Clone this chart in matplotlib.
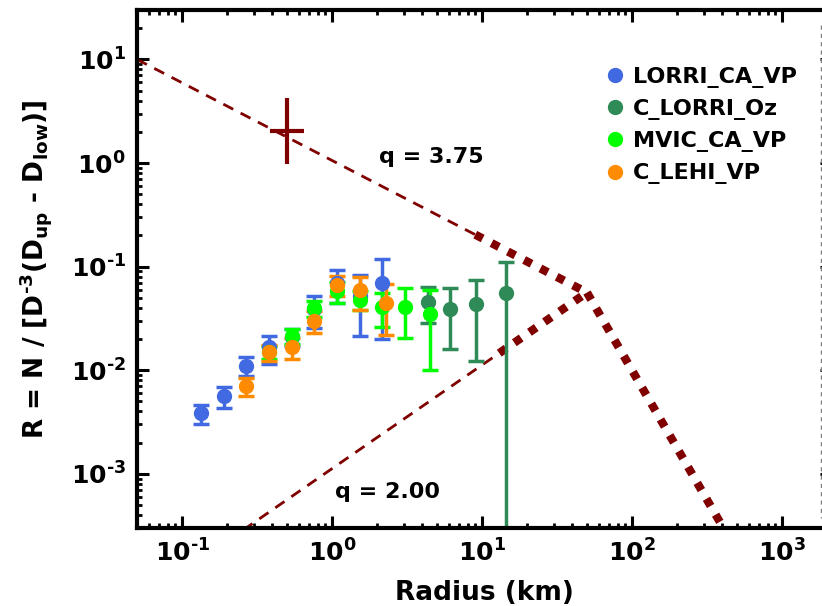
import matplotlib
matplotlib.use("Agg")
import matplotlib.pyplot as plt
import numpy as np
from matplotlib.lines import Line2D
from matplotlib.ticker import FuncFormatter, LogLocator

plt.rcParams['font.family'] = ['DejaVu Sans']
plt.rcParams['font.weight'] = 'bold'
plt.rcParams['mathtext.fontset'] = 'dejavusans'

# binned size-frequency points (radius in km, R value, 1-sigma error)
lorri_ca_x = [0.133, 0.191, 0.267, 0.378, 0.541, 0.762, 1.07, 1.53, 2.15]
lorri_ca_y = [0.00385, 0.0056, 0.0111, 0.0166, 0.021, 0.0386, 0.069, 0.052, 0.069]
lorri_ca_e = [0.00079, 0.0013, 0.0024, 0.005, 0.004, 0.0133, 0.0246, 0.0307, 0.049]

c_lorri_x = [4.34, 6.12, 9.16, 14.5]
c_lorri_y = [0.0457, 0.0389, 0.0434, 0.0552]
c_lorri_e = [0.0174, 0.0227, 0.031, 0.0549]

mvic_x = [0.378, 0.541, 0.762, 1.07, 1.53, 2.15, 3.07, 4.52]
mvic_y = [0.0150, 0.0215, 0.040, 0.058, 0.048, 0.0411, 0.0411, 0.0347]
mvic_e = [0.0022, 0.0035, 0.007, 0.013, 0.010, 0.0149, 0.0206, 0.0246]

lehi_x = [0.267, 0.378, 0.541, 0.762, 1.07, 1.53, 2.29]
lehi_y = [0.00703, 0.0150, 0.0167, 0.030, 0.0667, 0.059, 0.045]
lehi_e = [0.0014, 0.0026, 0.0038, 0.0072, 0.0149, 0.0205, 0.0229]

# single point with range
cross_x, cross_xlo, cross_xhi = 0.5, 0.388, 0.645
cross_y, cross_ylo, cross_yhi = 2.05, 0.97, 4.2

# broken power-law model: R ~ r^(3 - q)
q_small = 3.75
q_large = 2.00
q_steep = 5.5
r_start, R_start = 0.05, 10.0
r_break = 50.0
r_upper_thick = 9.0
r_lower_start, r_lower_thick = 0.2, 13.0
r_end = 2000.0

names = ['LORRI_CA_VP', 'C_LORRI_Oz', 'MVIC_CA_VP', 'C_LEHI_VP']
colors = ['#4169E1', '#2E8B57', '#00FF00', '#FF8C00']
dark_red = '#800000'
HY = '\u2010'  # short hyphen for exponents

fig = plt.figure(figsize=(8.22, 6.06), dpi=100)
ax = fig.add_axes([137 / 822, 78 / 606, 695 / 822, 518 / 606])
ax.set_xscale('log')
ax.set_yscale('log')
ax.set_xlim(0.05, 2150)
ax.set_ylim(3e-4, 30)

def model(r, r0, R0, q):
    return R0 * (np.asarray(r) / r0) ** (3 - q)

R_break = model(r_break, r_start, R_start, q_small)

# thin dashed parts
r1 = np.array([r_start, r_upper_thick])
ax.plot(r1, model(r1, r_start, R_start, q_small), color=dark_red, lw=2, ls=(0, (4, 3)))
r2 = np.array([r_lower_start, r_lower_thick])
ax.plot(r2, model(r2, r_break, R_break, q_large), color=dark_red, lw=2, ls=(0, (4, 3)))
# thick dotted parts
r3 = np.array([r_upper_thick, r_break])
ax.plot(r3, model(r3, r_start, R_start, q_small), color=dark_red, lw=6, ls=(0, (1, 1.2)))
r4 = np.array([r_lower_thick, r_break])
ax.plot(r4, model(r4, r_break, R_break, q_large), color=dark_red, lw=6, ls=(0, (1, 1.2)))
r5 = np.array([r_break, r_end])
ax.plot(r5, model(r5, r_break, R_break, q_steep), color=dark_red, lw=6, ls=(0, (1, 1.2)))

ax.errorbar([cross_x], [cross_y],
            xerr=[[cross_x - cross_xlo], [cross_xhi - cross_x]],
            yerr=[[cross_y - cross_ylo], [cross_yhi - cross_y]],
            fmt='none', ecolor=dark_red, elinewidth=3, capsize=0)

series = [(lorri_ca_x, lorri_ca_y, lorri_ca_e),
          (c_lorri_x, c_lorri_y, c_lorri_e),
          (mvic_x, mvic_y, mvic_e),
          (lehi_x, lehi_y, lehi_e)]
for (x, y, e), c in zip(series, colors):
    ax.errorbar(x, y, yerr=e, fmt='o', color=c, ms=10, elinewidth=2.5,
                capsize=5.5, capthick=2.5)

ax.text(0.423, 0.716, 'q = 3.75', transform=ax.transAxes, fontsize=16,
        fontweight='bold', ha='center', va='center')
ax.text(0.36, 0.07, 'q = 2.00', transform=ax.transAxes, fontsize=16,
        fontweight='bold', ha='center', va='center')

handles = [Line2D([], [], marker='o', ls='', color=c, ms=10) for c in colors]
fig.legend(handles, names, loc='upper left', bbox_to_anchor=(585 / 822, 1 - 47 / 606),
           bbox_transform=fig.transFigure, frameon=False,
           handlelength=0.9, handletextpad=0.35, labelspacing=0.5,
           prop={'weight': 'bold', 'size': 16})


def exp_label(v, pos):
    n = int(round(np.log10(v)))
    s = str(abs(n)) if n >= 0 else HY + str(abs(n))
    return r'$\mathbf{10^{%s}}$' % s


fmt = FuncFormatter(exp_label)
for axis in (ax.xaxis, ax.yaxis):
    axis.set_major_locator(LogLocator(base=10, numticks=20))
    axis.set_minor_locator(LogLocator(base=10, subs=np.arange(2, 10), numticks=20))
    axis.set_major_formatter(fmt)
ax.tick_params(which='both', direction='in', top=True, right=True, labelsize=18)
ax.tick_params(which='major', length=8.5, width=2.2, pad=8)
ax.tick_params(which='minor', length=3.5, width=2.0)
for s in ax.spines.values():
    s.set_linewidth(3)

ax.set_xlabel('Radius (km)', fontsize=19, fontweight='bold', labelpad=10)
ax.set_ylabel(r'R = N / [D$^{\mathbf{' + HY + r'3}}$(D$_{\mathbf{up}}$ - D$_{\mathbf{low}}$)]',
              fontsize=19, fontweight='bold', labelpad=12)

fig.add_artist(Line2D([821 / 822, 821 / 822], [1 - 25 / 606, 1 - 518 / 606],
                      transform=fig.transFigure, color='grey', lw=1, ls=(0, (3, 3))))

fig.savefig('out.png', dpi=100)
